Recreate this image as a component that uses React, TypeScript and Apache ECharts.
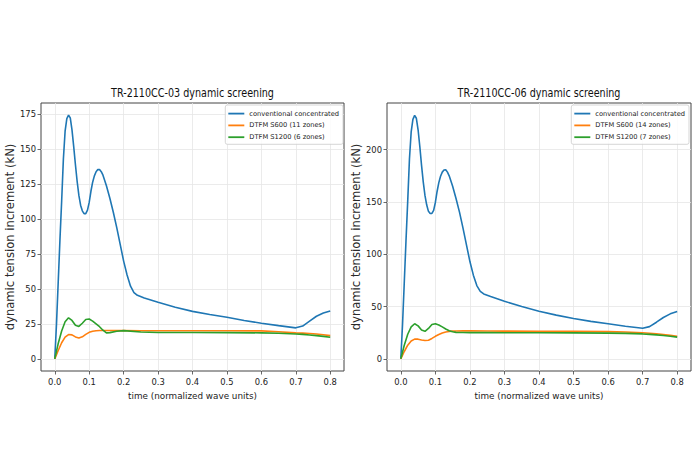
import React, { useEffect, useRef } from "react";
import * as echarts from "echarts";

// ---------- data ----------
const tBlue = [
  0, 0.005, 0.01, 0.015, 0.02, 0.025, 0.03, 0.035, 0.04, 0.045, 0.05, 0.055, 0.06, 0.065, 0.07,
  0.075, 0.08, 0.085, 0.09, 0.095, 0.1, 0.105, 0.11, 0.115, 0.12, 0.125, 0.13, 0.135, 0.14, 0.15,
  0.16, 0.17, 0.18, 0.19, 0.2, 0.21, 0.22, 0.23, 0.24, 0.26, 0.3, 0.35, 0.4, 0.45, 0.5, 0.55, 0.6,
  0.65, 0.7, 0.72, 0.74, 0.76, 0.78, 0.8,
];
const conv03 = [
  0, 25, 55, 85, 113, 143, 163, 172, 174.5, 172.5, 164, 152, 139, 127, 117,
  110, 106, 104, 104, 106.5, 112, 120, 126.5, 131, 134, 135.5, 135.5, 134, 131.5, 124,
  115, 105, 94, 82, 70, 60, 52, 47.5, 45.5, 43.5, 40.5, 37, 34, 31.8, 29.8, 27.5, 25.5,
  23.8, 22.2, 23.5, 27, 30.5, 32.8, 34.3,
];
const conv06 = [
  0, 33, 73, 113, 151, 191, 217, 229, 232.8, 230, 219, 203, 185, 169, 156,
  147, 141, 139, 139, 142, 149.5, 160, 168.5, 174.5, 178.5, 180.5, 180.8, 178.5, 175, 165,
  153, 140, 125, 109, 93, 80, 70, 64.5, 62, 59.5, 55, 50, 45.5, 41.8, 38.5, 35.8, 33.5,
  31.2, 29.2, 30.8, 35, 39.5, 43, 45.3,
];

const tDtfm = [
  0, 0.01, 0.02, 0.03, 0.04, 0.05, 0.06, 0.07, 0.08, 0.09, 0.1, 0.11, 0.12, 0.13, 0.14, 0.15,
  0.16, 0.18, 0.2, 0.25, 0.3, 0.4, 0.5, 0.6, 0.65, 0.7, 0.72, 0.74, 0.76, 0.78, 0.8,
];
const s600_03 = [
  0, 6, 11.5, 15.5, 17.4, 17.2, 15.7, 15, 15.8, 17.5, 19, 19.8, 20.1, 20.3, 20.3, 20.3,
  20.3, 20.2, 20.2, 20.1, 20.1, 20.1, 20.1, 20, 19.4, 18.6, 18.4, 18.2, 17.8, 17.3, 16.6,
];
const s1200_03 = [
  0, 11, 20, 26.5, 29.4, 27.5, 24, 23.2, 25.5, 28.2, 28.5, 27, 25, 23, 20.5, 18.6,
  18.8, 19.8, 20.2, 19.2, 18.9, 18.9, 18.8, 18.6, 18.3, 17.8, 17.5, 17.1, 16.6, 16.1, 15.5,
];
const s600_06 = [
  0, 7, 13, 17, 18.8, 18.8, 18, 17.5, 17.8, 19.5, 21.5, 23.2, 24.6, 25.6, 26.2, 26.5,
  26.6, 26.7, 26.7, 26.6, 26.5, 26.4, 26.3, 26, 25.6, 24.9, 24.5, 23.9, 23.2, 22.4, 21.6,
];
const s1200_06 = [
  0, 13, 23.5, 30.5, 33.5, 31.5, 27.5, 26.3, 29, 32.8, 33.5, 32.3, 30.5, 28.5, 26.8, 25.8,
  25.3, 25.1, 25, 25, 24.9, 24.9, 24.8, 24.6, 24.3, 23.8, 23.4, 22.9, 22.3, 21.5, 20.7,
];

const xTicks = [0, 0.1, 0.2, 0.3, 0.4, 0.5, 0.6, 0.7, 0.8];
const yTicks03 = [0, 25, 50, 75, 100, 125, 150, 175];
const yTicks06 = [0, 50, 100, 150, 200];

const titles = ["TR-2110CC-03 dynamic screening", "TR-2110CC-06 dynamic screening"];
const names03 = ["conventional concentrated", "DTFM S600 (11 zones)", "DTFM S1200 (6 zones)"];
const names06 = ["conventional concentrated", "DTFM S600 (14 zones)", "DTFM S1200 (7 zones)"];
const colors = ["#1f77b4", "#ff7f0e", "#2ca02c"];
const xName = "time (normalized wave units)";
const yName = "dynamic tension increment (kN)";

// ---------- helpers ----------
const FONT = "'DejaVu Sans', 'Liberation Sans', sans-serif";
const zip = (t: number[], v: number[]) => t.map((x, i) => [x, v[i]]);

function makeXAxis(gridIndex: number) {
  return {
    type: "value",
    gridIndex,
    min: -0.04,
    max: 0.84,
    name: xName,
    nameLocation: "middle",
    nameGap: 20,
    nameTextStyle: { fontFamily: FONT, fontSize: 8.8, color: "#222" },
    axisLine: { show: false, onZero: false },
    axisTick: { show: true, customValues: xTicks, length: 3.5, lineStyle: { color: "#444", width: 0.8 } },
    axisLabel: {
      customValues: xTicks,
      formatter: (v: number) => v.toFixed(1),
      fontFamily: FONT,
      fontSize: 8.4,
      color: "#222",
      margin: 6.5,
    },
    splitLine: { show: true, lineStyle: { color: "#e6e6e6", width: 0.8 } },
  };
}

function makeYAxis(gridIndex: number, min: number, max: number, ticks: number[]) {
  return {
    type: "value",
    gridIndex,
    min,
    max,
    name: yName,
    nameLocation: "middle",
    nameGap: 24,
    nameTextStyle: { fontFamily: FONT, fontSize: 11.6, color: "#2a2a2a" },
    axisLine: { show: false, onZero: false },
    axisTick: { show: true, customValues: ticks, length: 3.5, lineStyle: { color: "#444", width: 0.8 } },
    axisLabel: {
      customValues: ticks,
      formatter: (v: number) => String(v),
      fontFamily: FONT,
      fontSize: 8.4,
      color: "#222",
      margin: 5,
    },
    splitLine: { show: true, lineStyle: { color: "#e6e6e6", width: 0.8 } },
  };
}

function makeSeries(name: string, idx: number, color: string, data: number[][]) {
  return {
    type: "line",
    name,
    xAxisIndex: idx,
    yAxisIndex: idx,
    data,
    showSymbol: false,
    symbol: "none",
    clip: true,
    lineStyle: { color, width: 1.6 },
    itemStyle: { color },
    emphasis: { disabled: true },
  };
}

function makeLegend(names: string[], right: number) {
  return {
    data: names,
    orient: "vertical",
    right,
    top: 105,
    icon: "rect",
    itemWidth: 16,
    itemHeight: 1.8,
    itemGap: 3.6,
    padding: [4.5, 4, 3, 3],
    borderColor: "#cccccc",
    borderWidth: 0.8,
    borderRadius: 2,
    backgroundColor: "rgba(255,255,255,0.85)",
    textStyle: { fontFamily: FONT, fontSize: 6.7, color: "#222", lineHeight: 8.2 },
    selectedMode: false,
  };
}

export default function App() {
  const ref = useRef<HTMLDivElement>(null);

  useEffect(() => {
    if (!ref.current) return;
    const chart = echarts.init(ref.current, null, { renderer: "svg" });
    const gridLeftCenter = 192.5;
    const gridRightCenter = 539;
    chart.setOption({
      animation: false,
      backgroundColor: "#ffffff",
      grid: [
        { left: 41, right: 356, top: 103, bottom: 96, show: true, borderColor: "#444", borderWidth: 1, backgroundColor: "transparent" },
        { left: 387, right: 9, top: 103, bottom: 96, show: true, borderColor: "#444", borderWidth: 1, backgroundColor: "transparent" },
      ],
      xAxis: [makeXAxis(0), makeXAxis(1)],
      yAxis: [makeYAxis(0, -8.7, 183.2, yTicks03), makeYAxis(1, -11.65, 244.6, yTicks06)],
      legend: [makeLegend(names03, 357), makeLegend(names06, 11)],
      series: [
        makeSeries(names03[0], 0, colors[0], zip(tBlue, conv03)),
        makeSeries(names03[1], 0, colors[1], zip(tDtfm, s600_03)),
        makeSeries(names03[2], 0, colors[2], zip(tDtfm, s1200_03)),
        makeSeries(names06[0], 1, colors[0], zip(tBlue, conv06)),
        makeSeries(names06[1], 1, colors[1], zip(tDtfm, s600_06)),
        makeSeries(names06[2], 1, colors[2], zip(tDtfm, s1200_06)),
      ],
      graphic: [
        {
          type: "text",
          x: gridLeftCenter,
          y: 93,
          scaleX: 0.8,
          style: { text: titles[0], fontFamily: FONT, fontSize: 12, fill: "#111", textAlign: "center", textVerticalAlign: "middle", align: "center", verticalAlign: "middle" },
        },
        {
          type: "text",
          x: gridRightCenter,
          y: 93,
          scaleX: 0.8,
          style: { text: titles[1], fontFamily: FONT, fontSize: 12, fill: "#111", textAlign: "center", textVerticalAlign: "middle", align: "center", verticalAlign: "middle" },
        },
      ],
    });
    return () => chart.dispose();
  }, []);

  return (
    <div
      ref={ref}
      style={{ position: "fixed", left: 0, top: 0, width: 700, height: 467, background: "#fff" }}
    />
  );
}
